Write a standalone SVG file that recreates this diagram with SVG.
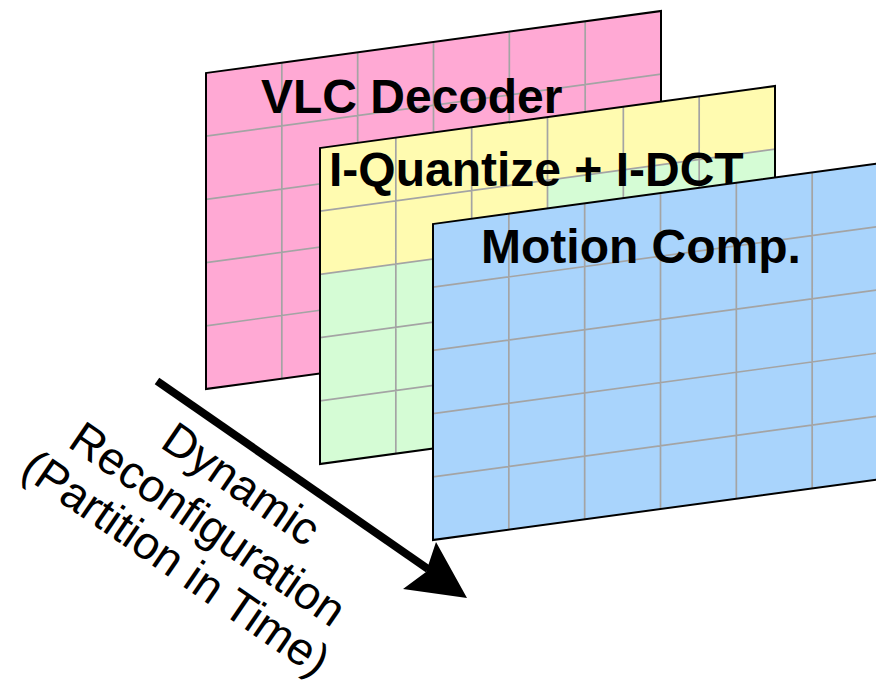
<svg xmlns="http://www.w3.org/2000/svg" width="876" height="680" viewBox="0 0 876 680">
  <style>
    .frame { stroke: #000; stroke-width: 2; stroke-linejoin: miter; }
    .grid { stroke: #a4a4a4; stroke-width: 1.7; fill: none; }
    .title { font-family: "Liberation Sans", Arial, sans-serif; font-weight: bold; font-size: 48px; fill: #000; }
    .note { font-family: "Liberation Sans", Arial, sans-serif; font-size: 46px; fill: #000; text-anchor: middle; }
  </style>
  <defs>
    <!-- 6 x 5 cell grid in the panel's own (unskewed) coordinates -->
    <path id="cells" class="grid" d="M75.83,0V316 M151.67,0V316 M227.5,0V316 M303.33,0V316 M379.17,0V316 M0,63.2H455 M0,126.4H455 M0,189.6H455 M0,252.8H455"/>
  </defs>

  <rect width="876" height="680" fill="#fff"/>

  <!-- Stage 1 panel -->
  <g id="vlc-decoder">
    <g transform="matrix(1,-0.13626,0,1,206,73)">
      <rect width="455" height="316" fill="#ffa9d4"/>
      <use href="#cells"/>
      <rect width="455" height="316" fill="none" class="frame"/>
    </g>
    <text class="title" x="261" y="113">VLC Decoder</text>
  </g>

  <!-- Stage 2 panel -->
  <g id="iquant-idct">
    <g transform="matrix(1,-0.13626,0,1,320,148)">
      <rect width="455" height="316" fill="#d5fcd5"/>
      <path d="M0,0H455V63.2H227.5V126.4H0Z" fill="#fffbb0"/>
      <use href="#cells"/>
      <rect width="455" height="316" fill="none" class="frame"/>
    </g>
    <text class="title" x="329" y="186">I-Quantize + I-DCT</text>
  </g>

  <!-- Stage 3 panel -->
  <g id="motion-comp">
    <g transform="matrix(1,-0.13626,0,1,433,224)">
      <rect width="455" height="316" fill="#a9d4fc"/>
      <use href="#cells"/>
      <rect width="455" height="316" fill="none" class="frame"/>
    </g>
    <text class="title" x="481" y="263">Motion Comp.</text>
  </g>

  <!-- Time axis -->
  <g id="connectors">
    <line x1="157" y1="381" x2="428" y2="569" stroke="#000" stroke-width="8"/>
    <polygon points="467,598 436,542 426,572 403,589" fill="#000"/>
  </g>

  <g id="axis-label" transform="translate(199,537) rotate(34.5)">
    <text class="note" x="5" y="-52">Dynamic</text>
    <text class="note" x="0" y="0">Reconfiguration</text>
    <text class="note" x="-4" y="50">(Partition in Time)</text>
  </g>
</svg>
